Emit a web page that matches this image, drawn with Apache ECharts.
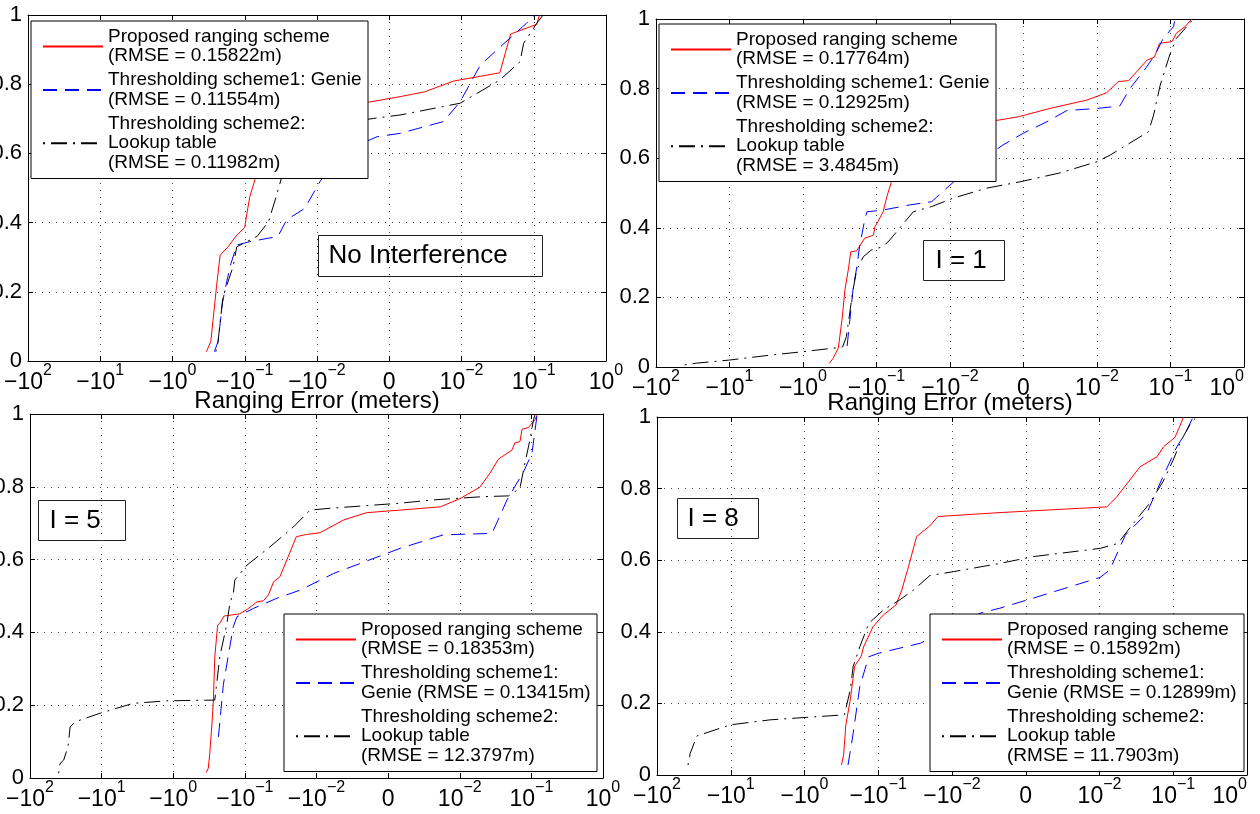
<!DOCTYPE html>
<html>
<head>
<meta charset="utf-8">
<title>Ranging error CDF</title>
<script src="https://cdn.jsdelivr.net/npm/echarts@6/dist/echarts.min.js"></script>
<style>
html, body { margin: 0; padding: 0; background: #fff; }
#chart { width: 1260px; height: 814px; }
</style>
</head>
<body>
<div id="chart"></div>
<script>
// ranging error (m), CDF value
var noIntProposed = [[-0.339,0.027],[-0.295,0.056],[-0.246,0.215],[-0.219,0.306],[-0.170,0.33],[-0.132,0.361],[-0.1,0.386],[-0.0933,0.427],[-0.0851,0.475],[-0.0724,0.523],[-0.0501,0.66],[-0.0251,0.73],[-0.0034,0.746],[0.0015,0.764],[0.0049,0.778],[0.0089,0.809],[0.0339,0.833],[0.0479,0.945],[0.110,0.973],[0.120,1.0]];
var noIntGenie = [[-0.263,0.027],[-0.234,0.056],[-0.204,0.167],[-0.178,0.229],[-0.155,0.282],[-0.129,0.335],[-0.0851,0.345],[-0.0347,0.36],[-0.0263,0.408],[-0.0148,0.441],[-0.0096,0.518],[-0.007,0.6],[-0.0017,0.648],[0.0015,0.658],[0.0075,0.692],[0.0098,0.749],[0.0182,0.855],[0.0309,0.899],[0.0794,0.976],[0.105,1.0]];
var noIntLookup = [[-0.251,0.027],[-0.234,0.056],[-0.200,0.186],[-0.145,0.273],[-0.129,0.33],[-0.0933,0.345],[-0.0676,0.36],[-0.0468,0.403],[-0.0380,0.465],[-0.0316,0.523],[-0.0251,0.62],[-0.0159,0.67],[-0.0022,0.701],[0.0015,0.711],[0.0098,0.745],[0.0339,0.812],[0.0646,0.865],[0.0724,0.918],[0.110,0.976],[0.135,1.0]];

var i1Proposed = [[-0.437,0.011],[-0.389,0.025],[-0.331,0.054],[-0.295,0.135],[-0.269,0.221],[-0.240,0.284],[-0.224,0.331],[-0.186,0.334],[-0.145,0.37],[-0.110,0.379],[-0.105,0.403],[-0.0955,0.418],[-0.0813,0.446],[-0.0724,0.489],[-0.0617,0.537],[-0.0447,0.64],[-0.0251,0.68],[-0.0032,0.71],[-0.0007,0.719],[0.0036,0.743],[0.0086,0.767],[0.0135,0.788],[0.0195,0.82],[0.0269,0.823],[0.0363,0.853],[0.0479,0.882],[0.0603,0.89],[0.0708,0.93],[0.105,0.935],[0.120,0.959],[0.158,0.978],[0.195,1.0]];
var i1Genie = [[-0.251,0.06],[-0.209,0.221],[-0.182,0.298],[-0.170,0.346],[-0.145,0.422],[-0.135,0.446],[-0.0813,0.451],[-0.0347,0.466],[-0.0178,0.475],[-0.0118,0.509],[-0.008,0.56],[-0.0028,0.638],[0,0.672],[0.0032,0.705],[0.0059,0.737],[0.01,0.743],[0.0204,0.75],[0.0282,0.801],[0.0427,0.849],[0.0617,0.897],[0.0794,0.944],[0.110,0.978],[0.115,1.0]];
var i1Lookup = [[-40.7,0.006],[-28.2,0.011],[-10,0.02],[-2.82,0.034],[-1,0.044],[-0.389,0.054],[-0.288,0.058],[-0.257,0.087],[-0.209,0.221],[-0.186,0.279],[-0.151,0.317],[-0.118,0.336],[-0.0813,0.346],[-0.0661,0.365],[-0.0427,0.413],[-0.0316,0.446],[-0.0178,0.461],[-0.0096,0.485],[-0.005,0.514],[-0.0005,0.532],[0.005,0.558],[0.01,0.59],[0.0151,0.609],[0.0501,0.676],[0.0589,0.724],[0.0724,0.81],[0.0977,0.897],[0.120,0.944],[0.166,0.978],[0.204,1.0]];

var i5Proposed = [[-0.347,0.015],[-0.324,0.027],[-0.309,0.068],[-0.288,0.15],[-0.275,0.214],[-0.263,0.333],[-0.240,0.42],[-0.224,0.425],[-0.195,0.445],[-0.118,0.451],[-0.0933,0.463],[-0.0676,0.484],[-0.0550,0.487],[-0.0468,0.503],[-0.0398,0.539],[-0.0324,0.553],[-0.0191,0.663],[-0.0138,0.669],[-0.0095,0.674],[-0.0062,0.709],[-0.003,0.729],[0.0017,0.736],[0.0073,0.745],[0.0102,0.768],[0.0191,0.799],[0.0263,0.837],[0.0347,0.876],[0.0537,0.901],[0.0589,0.921],[0.0692,0.924],[0.0741,0.958],[0.0912,0.963],[0.112,0.984],[0.120,0.997]];
var i5Genie = [[-0.234,0.113],[-0.200,0.256],[-0.162,0.361],[-0.145,0.416],[-0.129,0.443],[-0.0759,0.466],[-0.0355,0.494],[-0.0170,0.516],[-0.0076,0.562],[0.0017,0.631],[0.0077,0.668],[0.0282,0.672],[0.0457,0.764],[0.0776,0.841],[0.102,0.892],[0.120,0.997]];
var i5Lookup = [[-39.8,0.013],[-38.0,0.04],[-33.9,0.049],[-29.5,0.086],[-27.5,0.141],[-22.9,0.155],[-10.5,0.178],[-3.63,0.205],[-1.23,0.212],[-0.263,0.214],[-0.224,0.333],[-0.178,0.425],[-0.162,0.48],[-0.145,0.507],[-0.138,0.544],[-0.0933,0.585],[-0.0447,0.635],[-0.0209,0.69],[-0.0123,0.736],[-0.0081,0.741],[0.0017,0.755],[0.0063,0.764],[0.0214,0.773],[0.0479,0.775],[0.0692,0.796],[0.0813,0.865],[0.0955,0.929],[0.107,0.984],[0.112,0.997]];

var i8Proposed = [[-0.316,0.028],[-0.295,0.056],[-0.275,0.14],[-0.240,0.209],[-0.209,0.304],[-0.170,0.332],[-0.158,0.358],[-0.118,0.414],[-0.0851,0.447],[-0.0575,0.475],[-0.0479,0.517],[-0.0389,0.582],[-0.0302,0.666],[-0.0200,0.696],[-0.0155,0.722],[-0.0035,0.733],[0.0126,0.749],[0.0170,0.776],[0.0355,0.861],[0.0603,0.889],[0.0741,0.917],[0.105,0.943],[0.117,0.964],[0.138,1.0]];
var i8Genie = [[-0.257,0.028],[-0.219,0.116],[-0.178,0.247],[-0.135,0.33],[-0.1,0.34],[-0.0269,0.368],[-0.0062,0.452],[-0.0035,0.466],[0.001,0.494],[0.0102,0.552],[0.0138,0.573],[0.0224,0.67],[0.0437,0.731],[0.0724,0.833],[0.112,0.917],[0.145,0.954],[0.186,1.0]];
var i8Lookup = [[-38.0,0.028],[-35.5,0.06],[-28.8,0.109],[-10.2,0.14],[-2.95,0.154],[-0.933,0.161],[-0.288,0.168],[-0.240,0.237],[-0.219,0.303],[-0.178,0.358],[-0.135,0.423],[-0.0851,0.461],[-0.0513,0.489],[-0.0331,0.517],[-0.0200,0.557],[-0.0098,0.568],[-0.0035,0.591],[0.001,0.61],[0.0102,0.633],[0.0178,0.647],[0.0288,0.703],[0.0479,0.759],[0.0724,0.819],[0.1,0.88],[0.129,0.936],[0.178,0.987],[0.209,1.0]];

var namesNoInt = ['Proposed ranging scheme\n(RMSE = 0.15822m)', 'Thresholding scheme1: Genie\n(RMSE = 0.11554m)', 'Thresholding scheme2:\nLookup table\n(RMSE = 0.11982m)'];
var namesI1 = ['Proposed ranging scheme\n(RMSE = 0.17764m)', 'Thresholding scheme1: Genie\n(RMSE = 0.12925m)', 'Thresholding scheme2:\nLookup table\n(RMSE = 3.4845m)'];
var namesI5 = ['Proposed ranging scheme\n(RMSE = 0.18353m)', 'Thresholding scheme1:\nGenie (RMSE = 0.13415m)', 'Thresholding scheme2:\nLookup table\n(RMSE = 12.3797m)'];
var namesI8 = ['Proposed ranging scheme\n(RMSE = 0.15892m)', 'Thresholding scheme1:\nGenie (RMSE = 0.12899m)', 'Thresholding scheme2:\nLookup table\n(RMSE = 11.7903m)'];

var panelLabels = ['No Interference', 'I = 1', 'I = 5', 'I = 8'];
var xTickLabels = ['{b|\u221210}{s|2}', '{b|\u221210}{s|1}', '{b|\u221210}{s|0}', '{b|\u221210}{s|\u22121}', '{b|\u221210}{s|\u22122}',
                   '{b|0}', '{b|10}{s|\u22122}', '{b|10}{s|\u22121}', '{b|10}{s|0}'];
var xAxisTitle = 'Ranging Error (meters)';

var FONT = "'Liberation Sans', Arial, Helvetica, sans-serif";
var lineColors = ['#ff0000', '#0000ff', '#000000'];
var lineTypes = ['solid', [14, 8], [2, 6, 16, 6]];

// error (m) -> position on the symmetric log axis (0 = -10^2 ... 5 = 0 ... 8 = 10^0)
function symlog(e) {
    if (e <= -0.01) return 2 - Math.log10(-e);
    if (e >= 0.01) return 8 + Math.log10(e);
    return 5 + e / 0.01;
}

var panels = [
    {grid: {left: 28, top: 15, width: 578, height: 346}, leg: {left: 31, top: 21, w: 256},
     box: {left: 318, top: 235, w: 224, h: 41, pad: 10}, nameGap: 28, lastAlign: 'center',
     data: [noIntProposed, noIntGenie, noIntLookup], names: namesNoInt},
    {grid: {left: 656, top: 19, width: 588, height: 348}, leg: {left: 659, top: 24, w: 256},
     box: {left: 923, top: 240, w: 81, h: 40, pad: 12}, nameGap: 24, lastAlign: 'right',
     data: [i1Proposed, i1Genie, i1Lookup], names: namesI1},
    {grid: {left: 30, top: 414, width: 573, height: 364}, leg: {left: 284, top: 614, w: 232},
     box: {left: 38, top: 500, w: 87, h: 40, pad: 11}, nameGap: null, lastAlign: 'center',
     data: [i5Proposed, i5Genie, i5Lookup], names: namesI5},
    {grid: {left: 657, top: 417, width: 590, height: 358}, leg: {left: 930, top: 614, w: 233},
     box: {left: 677, top: 498, w: 81, h: 40, pad: 10}, nameGap: null, lastAlign: 'right',
     data: [i8Proposed, i8Genie, i8Lookup], names: namesI8}
];

var grids = [], xAxes = [], yAxes = [], legends = [], series = [], graphics = [];
var frameLine = {show: true, onZero: false, lineStyle: {color: '#000', width: 1}};
var tick = {show: true, inside: true, length: 5, lineStyle: {color: '#000', width: 1}};
var dotted = {show: true, lineStyle: {color: '#444', width: 1, type: [1, 6]}};

panels.forEach(function (p, i) {
    grids.push({left: p.grid.left, top: p.grid.top, width: p.grid.width, height: p.grid.height,
                containLabel: false, outerBoundsMode: 'none'});
    xAxes.push({
        type: 'value', gridIndex: i, position: 'bottom', min: 0, max: 8, interval: 1,
        axisLine: frameLine, axisTick: tick, splitLine: dotted,
        axisLabel: {
            color: '#000', margin: 2, showMinLabel: true, showMaxLabel: true,
            alignMaxLabel: p.lastAlign,
            formatter: function (v) { return xTickLabels[Math.round(v)]; },
            rich: {
                b: {fontSize: 23, fontFamily: FONT, color: '#000', lineHeight: 31, verticalAlign: 'bottom'},
                s: {fontSize: 16, fontFamily: FONT, color: '#000', lineHeight: 14, verticalAlign: 'top'}
            }
        },
        name: p.nameGap != null ? xAxisTitle : '', nameLocation: 'middle', nameGap: p.nameGap || 0,
        nameMoveOverlap: false,
        nameTextStyle: {fontSize: 24, color: '#000', fontFamily: FONT}
    });
    xAxes.push({
        type: 'value', gridIndex: i, position: 'top', min: 0, max: 8, interval: 1,
        axisLine: frameLine, axisTick: tick, axisLabel: {show: false}, splitLine: {show: false}
    });
    yAxes.push({
        type: 'value', gridIndex: i, position: 'left', min: 0, max: 1, interval: 0.2,
        axisLine: frameLine, axisTick: tick, splitLine: dotted,
        axisLabel: {color: '#000', fontSize: 22, fontFamily: FONT, margin: 6}
    });
    yAxes.push({
        type: 'value', gridIndex: i, position: 'right', min: 0, max: 1, interval: 0.2,
        axisLine: frameLine, axisTick: tick, axisLabel: {show: false}, splitLine: {show: false}
    });

    p.data.forEach(function (arr, k) {
        series.push({
            type: 'line', name: p.names[k], xAxisIndex: 2 * i, yAxisIndex: 2 * i,
            data: arr.map(function (d) { return [symlog(d[0]), d[1]]; }),
            symbol: 'none', showSymbol: false, silent: true, clip: true,
            emphasis: {disabled: true},
            itemStyle: {color: lineColors[k]},
            lineStyle: {color: lineColors[k], width: 1, type: lineTypes[k]}
        });
    });

    legends.push({
        show: true, orient: 'vertical', left: p.leg.left, top: p.leg.top,
        data: p.names, selectedMode: false,
        backgroundColor: '#fff', borderColor: '#000', borderWidth: 1, borderRadius: 0,
        padding: [6, 4, 6, 11], itemGap: 4.5, itemWidth: 60, itemHeight: 14,
        itemStyle: {color: 'rgba(0,0,0,0)', borderWidth: 0, opacity: 0},
        textStyle: {fontSize: 19, fontFamily: FONT, color: '#000', lineHeight: 19.5, width: p.leg.w}
    });

    graphics.push({
        type: 'group', left: p.box.left, top: p.box.top, z: 100,
        children: [
            {type: 'rect', shape: {x: 0, y: 0, width: p.box.w, height: p.box.h},
             style: {fill: '#fff', stroke: '#222', lineWidth: 1}},
            {type: 'text', x: p.box.pad, y: p.box.h / 2,
             style: {text: panelLabels[i], fontSize: 26, fontFamily: FONT, fill: '#000', verticalAlign: 'middle'}}
        ]
    });
});

var myChart = echarts.init(document.getElementById('chart'));
myChart.setOption({
    animation: false,
    backgroundColor: '#fff',
    textStyle: {fontFamily: FONT},
    grid: grids,
    xAxis: xAxes,
    yAxis: yAxes,
    legend: legends,
    graphic: graphics,
    series: series
});
</script>
</body>
</html>
